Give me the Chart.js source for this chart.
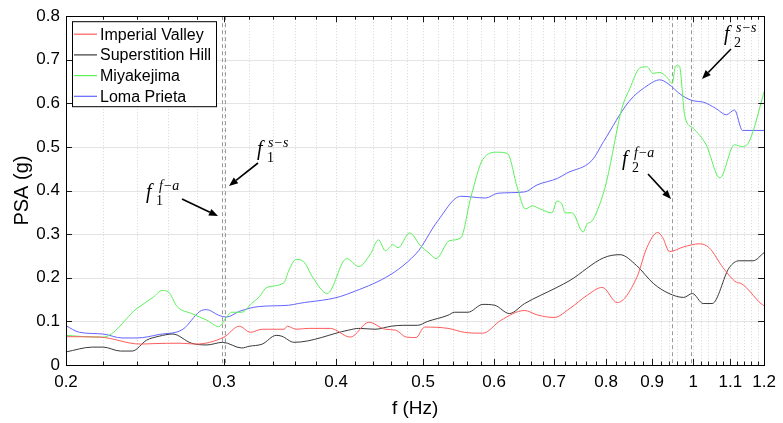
<!DOCTYPE html>
<html><head><meta charset="utf-8">
<script src="https://cdn.jsdelivr.net/npm/chart.js@4/dist/chart.umd.min.js"></script>
<style>html,body{margin:0;padding:0;background:#fff}#wrap{width:783px;height:423px}</style>
</head><body><div id="wrap"><canvas id="c" width="783" height="423"></canvas></div>
<script>
// ---- data ----
const seriesNames = ['Imperial Valley', 'Superstition Hill', 'Miyakejima', 'Loma Prieta'];
const seriesColors = ['#ff5c5c', '#3a3a3a', '#5cf05c', '#6464ff'];

const ivFreq = [0.200,0.218,0.242,0.250,0.268,0.279,0.300,0.312,0.321,0.331,0.350,0.353,0.361,0.373,0.394,0.415,0.435,0.454,0.466,0.479,0.491,0.502,0.533,0.556,0.583,0.610,0.649,0.670,0.700,0.729,0.762,0.792,0.823,0.865,0.888,0.913,0.925,0.941,0.976,1.017,1.042,1.080,1.117,1.131,1.190,1.200];
const ivPSA  = [0.065,0.064,0.048,0.049,0.050,0.048,0.064,0.089,0.075,0.082,0.082,0.089,0.082,0.084,0.084,0.064,0.098,0.082,0.080,0.064,0.063,0.087,0.084,0.075,0.073,0.102,0.125,0.115,0.109,0.130,0.160,0.178,0.143,0.200,0.269,0.304,0.292,0.260,0.271,0.278,0.269,0.223,0.190,0.187,0.141,0.136];

const shFreq = [0.200,0.214,0.220,0.230,0.237,0.246,0.254,0.263,0.276,0.287,0.299,0.314,0.320,0.331,0.343,0.348,0.359,0.413,0.424,0.442,0.461,0.475,0.493,0.506,0.533,0.542,0.561,0.583,0.601,0.624,0.649,0.705,0.729,0.795,0.829,0.865,0.903,0.940,0.976,0.998,1.026,1.050,1.097,1.125,1.166,1.200];
const shPSA  = [0.030,0.041,0.041,0.032,0.032,0.057,0.066,0.071,0.050,0.046,0.052,0.039,0.043,0.048,0.068,0.066,0.052,0.080,0.084,0.082,0.089,0.091,0.091,0.100,0.114,0.121,0.121,0.139,0.137,0.118,0.141,0.178,0.194,0.246,0.253,0.228,0.187,0.164,0.155,0.164,0.141,0.141,0.223,0.239,0.239,0.258];

const mjFreq = [0.200,0.210,0.220,0.240,0.250,0.256,0.260,0.266,0.276,0.287,0.296,0.302,0.306,0.314,0.322,0.328,0.335,0.350,0.354,0.361,0.368,0.377,0.391,0.411,0.424,0.437,0.446,0.454,0.463,0.469,0.483,0.497,0.509,0.517,0.535,0.551,0.565,0.583,0.605,0.621,0.637,0.650,0.662,0.675,0.696,0.705,0.714,0.720,0.733,0.754,0.762,0.771,0.787,0.801,0.833,0.850,0.872,0.888,0.902,0.918,0.934,0.948,0.956,0.965,0.979,1.000,1.034,1.071,1.112,1.135,1.155,1.200];
const mjPSA  = [0.068,0.065,0.064,0.130,0.155,0.171,0.168,0.134,0.118,0.103,0.088,0.110,0.121,0.121,0.141,0.155,0.178,0.189,0.215,0.242,0.237,0.200,0.164,0.244,0.226,0.255,0.287,0.262,0.276,0.269,0.303,0.273,0.255,0.244,0.285,0.292,0.383,0.472,0.488,0.485,0.406,0.358,0.365,0.358,0.349,0.376,0.369,0.349,0.349,0.305,0.324,0.330,0.369,0.422,0.589,0.634,0.681,0.684,0.669,0.671,0.661,0.646,0.686,0.686,0.570,0.543,0.505,0.429,0.505,0.501,0.513,0.627];

const lpFreq = [0.200,0.207,0.220,0.231,0.240,0.254,0.270,0.282,0.287,0.296,0.302,0.312,0.328,0.354,0.363,0.411,0.491,0.519,0.551,0.587,0.606,0.649,0.670,0.706,0.723,0.771,0.795,0.848,0.888,0.918,0.938,0.969,1.000,1.026,1.059,1.089,1.112,1.135,1.200];
const lpPSA  = [0.090,0.075,0.071,0.062,0.062,0.070,0.082,0.123,0.127,0.114,0.110,0.123,0.134,0.137,0.141,0.162,0.255,0.330,0.387,0.383,0.394,0.397,0.413,0.428,0.440,0.469,0.513,0.604,0.640,0.654,0.645,0.620,0.606,0.603,0.589,0.574,0.585,0.538,0.538];

const xTickValues = [0.2,0.3,0.4,0.5,0.6,0.7,0.8,0.9,1.0,1.1,1.2];
const xTickLabels = ['0.2','0.3','0.4','0.5','0.6','0.7','0.8','0.9','1','1.1','1.2'];
const yTickValues = [0,0.1,0.2,0.3,0.4,0.5,0.6,0.7,0.8];
const yTickLabels = ['0','0.1','0.2','0.3','0.4','0.5','0.6','0.7','0.8'];
const markerFreqs = [0.2986, 0.3009, 0.948, 0.995];

// minor x ticks every 0.02
const xMinor = [];
for (let k = 11; k < 60; k++) { if (k % 5 !== 0) xMinor.push(k / 50); }

const FONT = '"Liberation Sans", Arial, Helvetica, sans-serif';
const SERIF = '"Liberation Serif", "Times New Roman", serif';

function pts(fs, vs) { return fs.map((f, i) => ({x: f, y: vs[i]})); }
const allSeries = [[ivFreq, ivPSA], [shFreq, shPSA], [mjFreq, mjPSA], [lpFreq, lpPSA]];

function seg(ctx, x1, y1, x2, y2) { ctx.beginPath(); ctx.moveTo(x1, y1); ctx.lineTo(x2, y2); ctx.stroke(); }

function arrow(ctx, x1, y1, x2, y2) {
  const ang = Math.atan2(y2 - y1, x2 - x1), L = 9, W = 3.6;
  const bx = x2 - L * Math.cos(ang), by = y2 - L * Math.sin(ang);
  ctx.strokeStyle = '#000'; ctx.lineWidth = 1.6; ctx.setLineDash([]);
  seg(ctx, x1, y1, bx, by);
  ctx.fillStyle = '#000';
  ctx.beginPath();
  ctx.moveTo(x2, y2);
  ctx.lineTo(bx + W * Math.sin(ang), by - W * Math.cos(ang));
  ctx.lineTo(bx - W * Math.sin(ang), by + W * Math.cos(ang));
  ctx.closePath(); ctx.fill();
}

function fLabel(ctx, fx, fy, sup, sub, supDx, subDx) {
  ctx.fillStyle = '#000'; ctx.textBaseline = 'alphabetic'; ctx.textAlign = 'left';
  ctx.font = 'italic 20px ' + SERIF; ctx.fillText('f', fx, fy);
  ctx.font = 'italic 14px ' + SERIF; ctx.fillText(sup, fx + supDx, fy - 8);
  ctx.font = '14px ' + SERIF; ctx.fillText(sub, fx + subDx, fy + 7);
}

const framePlugin = {
  id: 'frame',
  beforeDatasetsDraw(chart) {
    const {ctx, chartArea: a, scales: {x, y}} = chart;
    ctx.save();
    ctx.lineWidth = 1;
    ctx.strokeStyle = '#e4e4e4'; ctx.setLineDash([]);
    yTickValues.forEach(v => {
      if (v <= 0 || v >= 0.8) return;
      const py = Math.round(y.getPixelForValue(v)) + 0.5;
      seg(ctx, a.left, py, a.right, py);
    });
    ctx.strokeStyle = '#d6d6d6'; ctx.setLineDash([1, 2]);
    xMinor.concat(xTickValues.slice(1, -1)).forEach(v => {
      const px = Math.round(x.getPixelForValue(v)) + 0.5;
      seg(ctx, px, a.top, px, a.bottom);
    });
    ctx.strokeStyle = '#9a9a9a'; ctx.setLineDash([4, 3]);
    markerFreqs.forEach(v => {
      const px = Math.round(x.getPixelForValue(v)) + 0.5;
      seg(ctx, px, a.top, px, a.bottom);
    });
    ctx.restore();
  },
  afterDatasetsDraw(chart) {
    const {ctx, chartArea: a, scales: {x, y}} = chart;
    ctx.save();
    ctx.setLineDash([]);
    ctx.strokeStyle = '#1a1a1a'; ctx.lineWidth = 1;
    xTickValues.concat(xMinor).forEach((v, i) => {
      const len = i < xTickValues.length ? 6 : 3.5;
      const px = Math.round(x.getPixelForValue(v)) + 0.5;
      seg(ctx, px, a.bottom, px, a.bottom - len);
      seg(ctx, px, a.top, px, a.top + len);
    });
    yTickValues.forEach(v => {
      const py = Math.round(y.getPixelForValue(v)) + 0.5;
      seg(ctx, a.left, py, a.left + 6, py);
      seg(ctx, a.right, py, a.right - 6, py);
    });
    ctx.strokeStyle = '#000';
    ctx.strokeRect(Math.round(a.left) + 0.5, Math.round(a.top) + 0.5, Math.round(a.right - a.left), Math.round(a.bottom - a.top));
    // legend
    const lx = a.left + 6, ly = a.top + 5;
    ctx.fillStyle = '#fff';
    ctx.fillRect(lx, ly, 144, 85);
    ctx.strokeRect(lx + 0.5, ly + 0.5, 144, 85);
    ctx.font = '16px ' + FONT; ctx.textBaseline = 'middle'; ctx.textAlign = 'left';
    chart.data.datasets.forEach((ds, i) => {
      const ry = ly + 13 + i * 20.7;
      ctx.strokeStyle = ds.borderColor; ctx.lineWidth = 1.2;
      seg(ctx, lx + 2, ry, lx + 25, ry);
      ctx.fillStyle = '#000';
      ctx.fillText(ds.label, lx + 28, ry + 1);
    });
    // annotations
    fLabel(ctx, 146, 198, 'f\u2212a', '1', 13, 10);
    arrow(ctx, 182, 199, 218, 216);
    fLabel(ctx, 257, 155, 's\u2212s', '1', 11, 10);
    arrow(ctx, 258, 163, 229, 186);
    fLabel(ctx, 622, 165, 'f\u2212a', '2', 12, 10);
    arrow(ctx, 648, 174, 671, 199);
    fLabel(ctx, 724, 40, 's\u2212s', '2', 12, 10);
    arrow(ctx, 731, 49, 702, 79);
    ctx.restore();
  }
};

new Chart(document.getElementById('c'), {
  type: 'line',
  data: {
    datasets: allSeries.map((s, i) => ({
      label: seriesNames[i],
      data: pts(s[0], s[1]),
      borderColor: seriesColors[i],
      borderWidth: 1,
      pointRadius: 0,
      fill: false,
      cubicInterpolationMode: 'monotone'
    }))
  },
  options: {
    responsive: false,
    animation: false,
    devicePixelRatio: 1,
    parsing: false,
    layout: {padding: {left: 0, right: 15, top: 14, bottom: 0}},
    plugins: {legend: {display: false}, tooltip: {enabled: false}},
    scales: {
      x: {
        type: 'logarithmic', min: 0.2, max: 1.2, position: 'bottom',
        grid: {display: false, drawTicks: false}, border: {display: false},
        afterBuildTicks: s => { s.ticks = xTickValues.map(v => ({value: v})); },
        afterFit: s => { s.height = 58; },
        ticks: {
          autoSkip: false, maxRotation: 0, minRotation: 0, padding: 7, color: '#000',
          font: {family: FONT, size: 17},
          callback: (v) => { const i = xTickValues.findIndex(t => Math.abs(t - v) < 1e-9); return i >= 0 ? xTickLabels[i] : ''; }
        },
        title: {display: true, text: 'f (Hz)', color: '#000', font: {family: FONT, size: 19}, padding: {top: 0, bottom: 3}}
      },
      y: {
        min: 0, max: 0.8,
        grid: {display: false, drawTicks: false}, border: {display: false},
        afterBuildTicks: s => { s.ticks = yTickValues.map(v => ({value: v})); },
        afterFit: s => { s.width = 66; },
        ticks: {
          padding: 6, color: '#000', font: {family: FONT, size: 17},
          callback: (v) => { const i = yTickValues.findIndex(t => Math.abs(t - v) < 1e-9); return i >= 0 ? yTickLabels[i] : ''; }
        },
        title: {display: true, text: 'PSA (g)', color: '#000', font: {family: FONT, size: 20}, padding: {top: 10, bottom: 0}}
      }
    }
  },
  plugins: [framePlugin]
});
</script>
</body></html>
